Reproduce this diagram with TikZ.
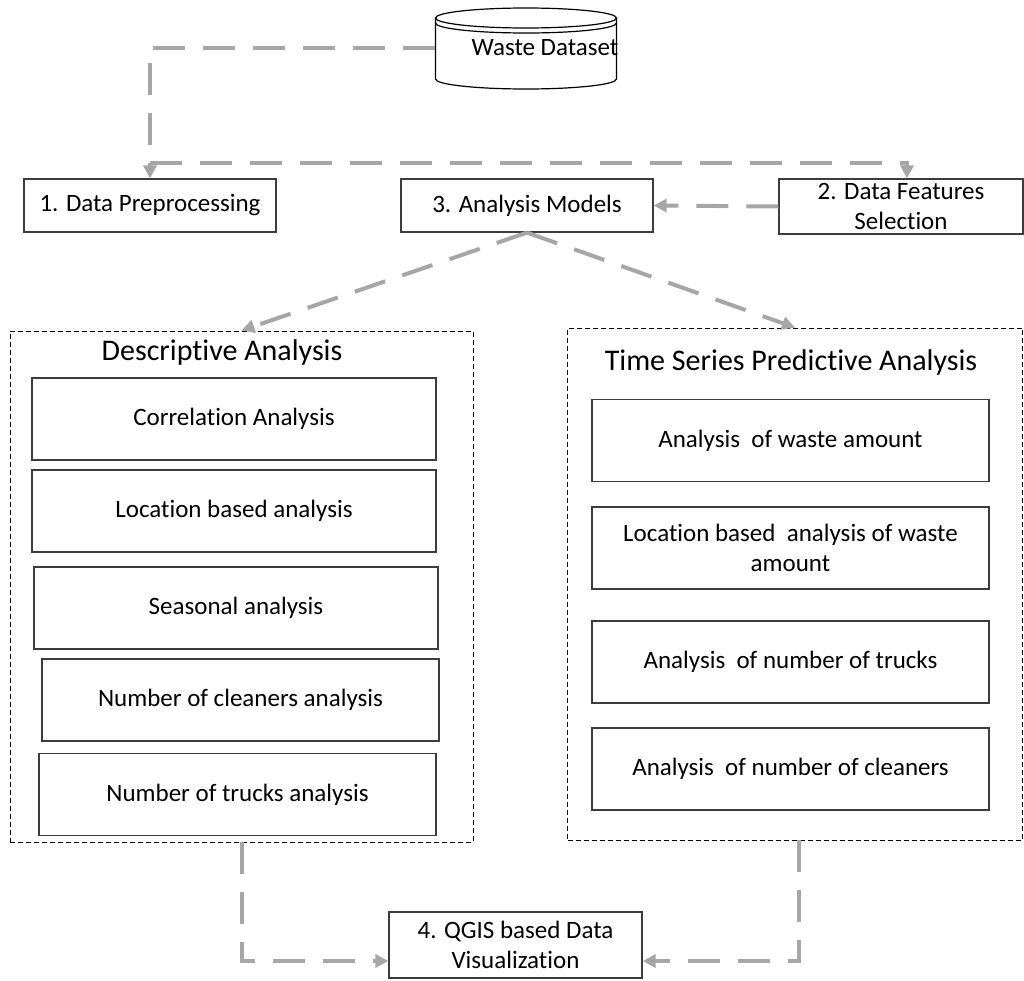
\documentclass[tikz,border=0pt]{standalone}
\usepackage{fontspec}
\setmainfont{Carlito}[RawFeature={-liga;-clig;-calt}]
\usetikzlibrary{arrows.meta}
\definecolor{arrowgray}{RGB}{166,166,166}
\definecolor{boxline}{RGB}{60,60,60}
\begin{document}
\begin{tikzpicture}
      [x=1pt, y=-1pt,
       every node/.style={font=\fontsize{25}{30}\selectfont, align=center, inner sep=0pt},
       box/.style={draw=boxline, line width=1.2pt},
       group/.style={draw=black, line width=0.9pt, dash pattern=on 5pt off 3pt},
       title/.style={font=\fontsize{30}{36}\selectfont},
       flow/.style={draw=arrowgray, line width=4pt, dash pattern=on 32pt off 18pt,
         -{Triangle[length=13pt, width=13pt]}}]
      \useasboundingbox (0, 0) rectangle (1024, 980);
      \node(0) at (526, 48) [minimum width=181pt, minimum height=82pt,
        label={[xshift=19pt]center:Waste Dataset}] {};
      \draw[line width=1.2pt](526, 18) ellipse [x radius=90.5, y radius=10];
      \draw[line width=1.2pt](435.5, 18) -- (435.5, 79)
        arc[start angle=180, end angle=0, x radius=90.5, y radius=10] -- (616.5, 18);
      \draw[line width=1.2pt](435.5, 23) arc[start angle=180, end angle=0, x radius=90.5, y radius=10];
      \node(1)[box, minimum width=252pt, minimum height=53pt] at (150, 205.5) {1. Data Preprocessing};
      \node(3)[box, minimum width=252pt, minimum height=53pt] at (527, 205.5) {3. Analysis Models};
      \node(2)[box, minimum width=244pt, minimum height=55pt] at (901, 206.5) {2. Data Features\\Selection};
      \node(d)[group, minimum width=463pt, minimum height=511pt] at (241.5, 586.5) {};
      \node(t)[group, minimum width=455pt, minimum height=512pt] at (795, 584) {};
      \node(dt)[title] at (222, 352) {Descriptive Analysis};
      \node(tt)[title] at (791, 362) {Time Series Predictive Analysis};
      \node(d1)[box, minimum width=404pt, minimum height=82pt] at (234, 419) {Correlation Analysis};
      \node(d2)[box, minimum width=404pt, minimum height=82pt] at (234, 511) {Location based analysis};
      \node(d3)[box, minimum width=404pt, minimum height=82pt] at (236, 608) {Seasonal analysis};
      \node(d4)[box, minimum width=397pt, minimum height=82pt] at (240.5, 700) {Number of cleaners analysis};
      \node(d5)[box, minimum width=397pt, minimum height=82pt] at (237.5, 794.5) {Number of trucks analysis};
      \node(t1)[box, minimum width=397pt, minimum height=82pt] at (790.5, 440.5) {Analysis\ \ of waste amount};
      \node(t2)[box, minimum width=397pt, minimum height=82pt] at (790.5, 548) {Location based\ \ analysis of waste\\amount};
      \node(t3)[box, minimum width=397pt, minimum height=82pt] at (790.5, 662) {Analysis\ \ of number of trucks};
      \node(t4)[box, minimum width=397pt, minimum height=82pt] at (790.5, 769) {Analysis\ \ of number of cleaners};
      \node(4)[box, minimum width=253pt, minimum height=66pt] at (515.5, 945) {4. QGIS based Data\\Visualization};
      \coordinate(b) at (150, 163);
      \draw[flow](0.west) -| (1.north);
      \draw[flow](b) -| ([xshift=6pt]2.north);
      \draw[flow](2.west) -- (3.east);
      \draw[flow](3.south) -- (d.north);
      \draw[flow](3.south) -- (t.north);
      \draw[flow](d.south) |- ([yshift=-16pt]4.west);
      \draw[flow]([xshift=4pt]t.south) |- ([yshift=-16pt]4.east);
  \end{tikzpicture}
\end{document}
